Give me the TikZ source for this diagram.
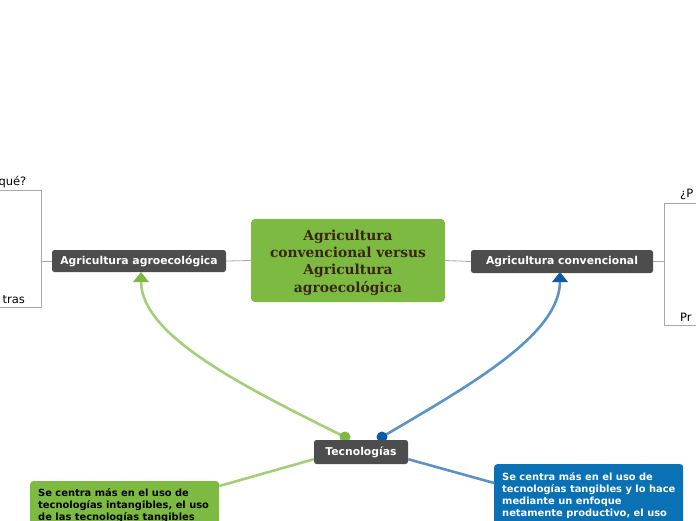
\documentclass[tikz,border=0pt]{standalone}
\usepackage{fontspec}
\usepackage{tikz}
\usetikzlibrary{arrows.meta, calc}
\newfontfamily\boxfont{DejaVu Sans}
\newfontfamily\titlefont{DejaVu Serif}

\definecolor{topicgreen}{HTML}{7DBA42}
\definecolor{linkgreen}{HTML}{A2D078}
\definecolor{topicblue}{HTML}{0A71B4}
\definecolor{linkblue}{HTML}{5B92C7}
\definecolor{tipblue}{HTML}{0C5BA8}
\definecolor{topicdark}{HTML}{4D4D4D}
\definecolor{titlebrown}{HTML}{3B2510}
\definecolor{branchgray}{HTML}{A8A8A8}

\tikzset{
  darkbox/.style={fill=topicdark, rounded corners=2.5pt, text=white, inner sep=0pt,
    font=\boxfont\bfseries\fontsize{10.8}{12}\selectfont},
  notebox/.style={rounded corners=3pt, inner sep=0pt, anchor=north west,
    minimum width=189pt, minimum height=80pt},
  notetext/.style={anchor=base west, inner sep=0pt, align=left,
    font=\boxfont\bfseries\fontsize{9.9}{12}\selectfont},
  branch/.style={draw=branchgray, line width=0.8pt},
  leaf/.style={font=\boxfont\fontsize{11.5}{13}\selectfont, inner sep=0pt},
  rel/.style={line width=2.6pt},
}

\begin{document}
\begin{tikzpicture}[x=1pt, y=-1pt]
  \useasboundingbox[clip] (0,0) rectangle (696,520);

  % branches of the main topic
  \coordinate (lt) at (41,190);
  \coordinate (lb) at (41,307);
  \coordinate (lm) at (41,261);
  \coordinate (rt) at (664,203);
  \coordinate (rb) at (664,325);
  \coordinate (rm) at (664,261.5);
  \draw[branch] (0,190) -- (lt) -- (lb) -- (0,307);
  \draw[branch] (696,203) -- (rt) -- (rb) -- (696,325);
  \node[leaf, anchor=base east] (q1) at (26.5,185) {qué?};
  \node[leaf, anchor=base east] (q2) at (25,303) {tras};
  \node[leaf, anchor=base west] (q3) at (680,197) {¿P};
  \node[leaf, anchor=base west] (q4) at (680,321) {Pr};

  % relations from Tecnologias
  \coordinate (gdot) at (345,437);
  \coordinate (bdot) at (382,437);
  \coordinate (gtip) at (141,272);
  \coordinate (btip) at (560,272);
  \draw[rel, linkgreen] (gdot) .. controls (240,385) and (141,335) .. ($(gtip)+(0,9)$);
  \draw[rel, linkblue] (bdot) .. controls (470,385) and (560,335) .. ($(btip)+(0,9)$);
  \fill[topicgreen] (gtip) -- ++(-8,10) -- ++(16,0) -- cycle;
  \fill[tipblue] (btip) -- ++(-8,10) -- ++(16,0) -- cycle;
  \fill[topicgreen] (gdot) circle (5.5);
  \fill[tipblue] (bdot) circle (5.5);

  % topics
  \node[fill=topicgreen, rounded corners=4pt, minimum width=194pt, minimum height=83pt,
    inner sep=0pt] (main) at (348,260.5) {};
  \node[align=center, text=titlebrown, inner sep=0pt,
    font=\titlefont\bfseries\fontsize{13.8}{17.3}\selectfont] (maintxt) at (348,262.5)
    {Agricultura\\convencional versus\\Agricultura\\agroecológica};
  \node[darkbox, minimum width=174pt, minimum height=22pt] (agro) at (139,261)
    {Agricultura agroecológica};
  \node[darkbox, minimum width=182pt, minimum height=23pt] (conv) at (562,261.5)
    {Agricultura convencional};
  \node[darkbox, minimum width=94pt, minimum height=24pt] (tec) at (361,452)
    {Tecnologías};

  \draw[branch] (main.west) -- (agro.east);
  \draw[branch] (main.east) -- (conv.west);
  \draw[branch] (agro.west) -- (lm);
  \draw[branch] (conv.east) -- (rm);

  % notes under Tecnologias
  \node[notebox, fill=topicgreen] (intang) at (30,481) {};
  \node[notetext, text=black] (intangtxt) at (38,520)
    {Se centra más en el uso de\\tecnologías intangibles, el uso\\de las tecnologías tangibles};
  \node[notebox, fill=topicblue] (tang) at (494,464) {};
  \node[notetext, text=white] (tangtxt) at (502,516)
    {Se centra más en el uso de\\tecnologías tangibles y lo hace\\mediante un enfoque\\netamente productivo, el uso};

  \draw[rel, linkgreen] ($(tec.south west)+(0,-5)$) -- ($(intang.north east)+(0,5)$);
  \draw[rel, linkblue] ($(tec.south east)+(0,-5)$) -- ($(tang.north west)+(0,19)$);
\end{tikzpicture}
\end{document}
